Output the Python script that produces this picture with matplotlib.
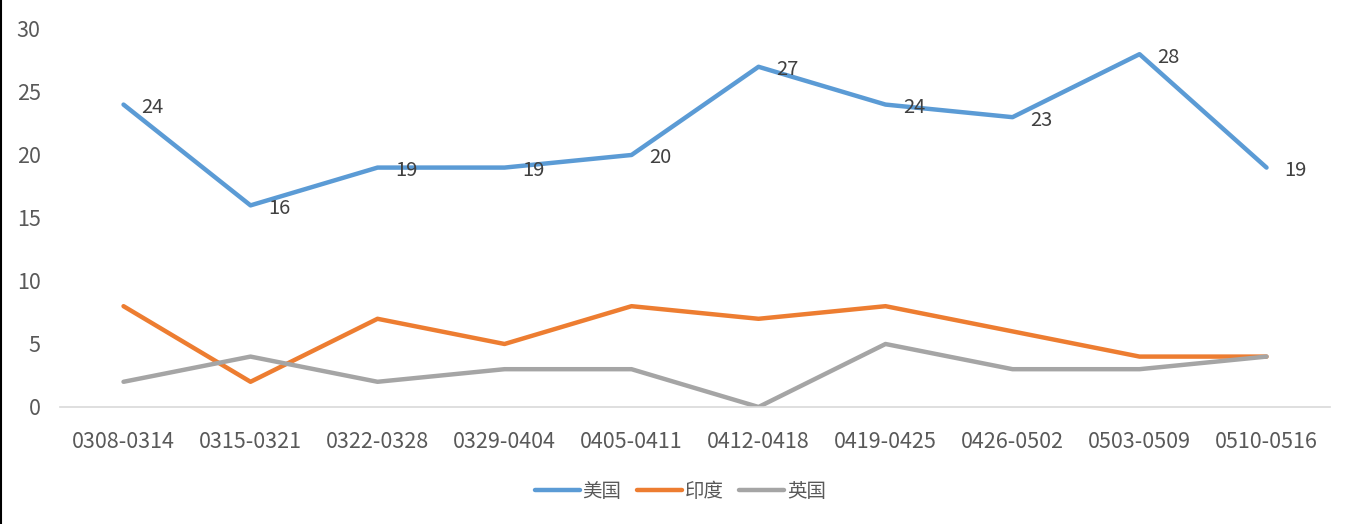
import matplotlib
matplotlib.use("Agg")
import matplotlib.pyplot as plt
from matplotlib.lines import Line2D

plt.rcParams['font.family'] = ['Noto Sans CJK SC', 'DejaVu Sans']

categories = ["0308-0314", "0315-0321", "0322-0328", "0329-0404", "0405-0411",
              "0412-0418", "0419-0425", "0426-0502", "0503-0509", "0510-0516"]
usa = [24, 16, 19, 19, 20, 27, 24, 23, 28, 19]
india = [8, 2, 7, 5, 8, 7, 8, 6, 4, 4]
uk = [2, 4, 2, 3, 3, 0, 5, 3, 3, 4]
series_names = ["美国", "印度", "英国"]
colors = ["#5B9BD5", "#ED7D31", "#A5A5A5"]

fig = plt.figure(figsize=(13.58, 5.24), dpi=100)
ax = fig.add_axes([0.0442, 0.2233, 0.9352, 0.7214])

x = list(range(len(categories)))
for vals, name, c in zip([usa, india, uk], series_names, colors):
    ax.plot(x, vals, color=c, lw=3.2, label=name, solid_capstyle='round',
            solid_joinstyle='round')

for xi, v in zip(x, usa):
    ax.annotate(str(v), (xi, v), xytext=(18, -3), textcoords='offset pixels',
                ha='left', va='center', fontsize=14.5, color='#404040')

ax.set_xlim(-0.5, len(categories) - 0.5)
ax.set_ylim(0, 30)
ax.set_yticks([0, 5, 10, 15, 20, 25, 30])
ax.set_xticks(x)
ax.set_xticklabels(categories)
ax.tick_params(axis='both', length=0, labelsize=15.5, colors='#595959')
ax.tick_params(axis='y', pad=14)
ax.tick_params(axis='x', pad=17)
for s in ['top', 'right', 'left']:
    ax.spines[s].set_visible(False)
ax.spines['bottom'].set_color('#D9D9D9')
ax.spines['bottom'].set_linewidth(1.2)

fig.legend(loc='center', bbox_to_anchor=(0.501, 0.062), ncol=3, frameon=False,
           fontsize=14, handlelength=2.3, columnspacing=0.8, handletextpad=0.15,
           labelcolor='#595959')

fig.add_artist(Line2D([0.0008, 0.0008], [0, 1], color='black', lw=1.5,
                      transform=fig.transFigure))

fig.savefig("out.png", dpi=100, facecolor='white')
